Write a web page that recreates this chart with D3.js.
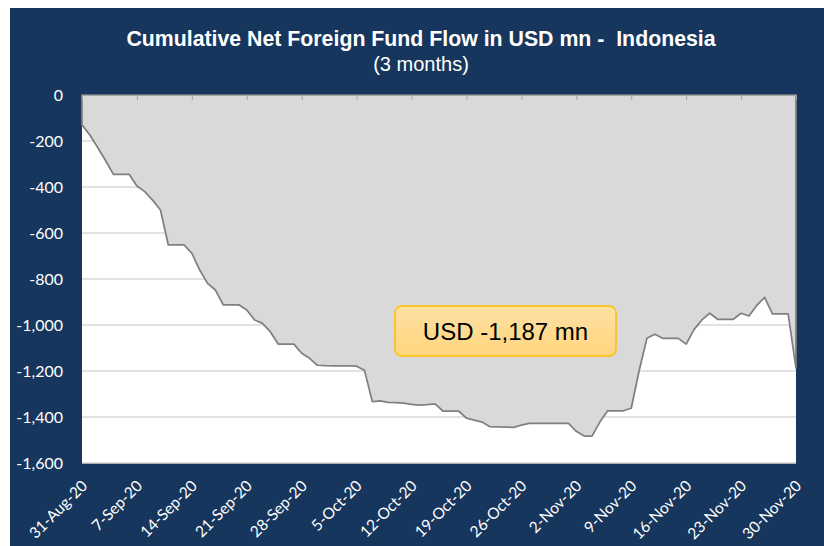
<!DOCTYPE html>
<html>
<head>
<meta charset="utf-8">
<script src="https://cdn.jsdelivr.net/npm/d3@7"></script>
<style>
  body { margin: 0; background: #ffffff; }
  svg { display: block; }
</style>
</head>
<body>
<div id="chart"></div>
<script>
// daily cumulative flow, 31-Aug-20 .. 30-Nov-20 (weekends repeat previous value)
var startDate = "2020-08-31";
var flowValues = [
  -130, -174, -228, -285, -345, -345, -345,
  -396, -420, -457, -500, -652, -652, -652,
  -688, -761, -819, -848, -912, -912, -912,
  -935, -978, -993, -1029, -1083, -1083, -1083,
  -1123, -1145, -1175, -1177, -1178, -1178, -1178,
  -1179, -1197, -1333, -1330, -1336, -1338, -1340,
  -1345, -1348, -1346, -1343, -1374, -1374, -1374,
  -1405, -1414, -1422, -1442, -1443, -1444, -1445,
  -1435, -1428, -1428, -1428, -1428, -1428, -1428,
  -1462, -1483, -1483, -1422, -1373, -1373, -1373,
  -1362, -1200, -1058, -1040, -1058, -1058, -1058,
  -1083, -1020, -978, -949, -975, -975, -975,
  -949, -961, -915, -880, -952, -952, -952,
  -1187
];
var xTickLabels = ["31-Aug-20", "7-Sep-20", "14-Sep-20", "21-Sep-20", "28-Sep-20",
  "5-Oct-20", "12-Oct-20", "19-Oct-20", "26-Oct-20", "2-Nov-20",
  "9-Nov-20", "16-Nov-20", "23-Nov-20", "30-Nov-20"];
var yTicks = [0, -200, -400, -600, -800, -1000, -1200, -1400, -1600];
var calloutText = "USD -1,187 mn";

var W = 824, H = 546;
var margin = {top: 95, right: 28, bottom: 83, left: 82};

var parse = d3.timeParse("%Y-%m-%d");
var d0 = parse(startDate);
var data = flowValues.map(function(v, i) {
  return {date: d3.timeDay.offset(d0, i), value: v};
});

var svg = d3.select("#chart").append("svg")
  .attr("width", W)
  .attr("height", H);

// navy chart background
svg.append("rect")
  .attr("x", 10).attr("y", 8)
  .attr("width", W - 10).attr("height", H - 8)
  .attr("fill", "#17365d");

var x = d3.scaleTime()
  .domain(d3.extent(data, function(d) { return d.date; }))
  .range([margin.left, W - margin.right]);

var y = d3.scaleLinear()
  .domain([-1600, 0])
  .range([H - margin.bottom, margin.top]);

// plot area
svg.append("rect")
  .attr("x", margin.left)
  .attr("y", margin.top)
  .attr("width", W - margin.left - margin.right)
  .attr("height", H - margin.top - margin.bottom)
  .attr("fill", "#ffffff");

// gridlines
svg.append("g")
  .selectAll("line")
  .data(yTicks.filter(function(t) { return t !== 0; }))
  .enter()
  .append("line")
  .attr("x1", margin.left)
  .attr("x2", W - margin.right)
  .attr("y1", function(d) { return y(d); })
  .attr("y2", function(d) { return y(d); })
  .attr("stroke", "#d9d9d9")
  .attr("stroke-width", 1.5);

// area between 0 and the line
var area = d3.area()
  .x(function(d) { return x(d.date); })
  .y0(y(0))
  .y1(function(d) { return y(d.value); });

svg.append("path")
  .datum(data)
  .attr("d", area)
  .attr("fill", "#d9d9d9")
  .attr("stroke", "#808080")
  .attr("stroke-width", 1.75)
  .attr("stroke-linejoin", "round");

// weekly ticks, axis sits at zero (top)
var weekTicks = data.filter(function(d, i) { return i % 7 === 0; })
  .map(function(d) { return d.date; });

var xAxisTop = svg.append("g")
  .attr("transform", "translate(0," + y(0) + ")")
  .call(d3.axisBottom(x).tickValues(weekTicks).tickSize(5).tickFormat(""));
xAxisTop.selectAll("line").attr("stroke", "#a6a6a6");
xAxisTop.select(".domain").attr("stroke", "#a6a6a6").attr("stroke-width", 1);

// x labels at the bottom, rotated
var xAxisBottom = svg.append("g")
  .attr("transform", "translate(0," + (H - margin.bottom) + ")")
  .call(d3.axisBottom(x).tickValues(weekTicks).tickSize(0)
    .tickFormat(function(d, i) { return xTickLabels[i]; }));
xAxisBottom.select(".domain").remove();
xAxisBottom.selectAll("text")
  .attr("fill", "#ffffff")
  .attr("font-family", "Lato, 'Liberation Sans', sans-serif")
  .attr("font-size", "15.5px")
  .attr("text-anchor", "end")
  .attr("dy", "0.35em")
  .attr("transform", "translate(2,20)rotate(-45)")
  .attr("y", 0);

// y labels
var yAxis = svg.append("g")
  .attr("transform", "translate(" + margin.left + ",0)")
  .call(d3.axisLeft(y).tickValues(yTicks).tickSize(0).tickPadding(19)
    .tickFormat(d3.format(",")));
yAxis.select(".domain").remove();
yAxis.selectAll("text")
  .attr("fill", "#ffffff")
  .attr("font-family", "Lato, 'Liberation Sans', sans-serif")
  .attr("font-size", "16px")
  .text(function(d) { return d3.format(",")(d).replace("−", "-"); });

// title
svg.append("text")
  .attr("x", 421).attr("y", 46)
  .attr("text-anchor", "middle")
  .attr("fill", "#ffffff")
  .attr("font-family", "'Liberation Sans', Arial, sans-serif")
  .attr("font-weight", "bold")
  .attr("font-size", "21.3px")
  .attr("xml:space", "preserve")
  .text("Cumulative Net Foreign Fund Flow in USD mn -  Indonesia");

svg.append("text")
  .attr("x", 421).attr("y", 71)
  .attr("text-anchor", "middle")
  .attr("fill", "#ffffff")
  .attr("font-family", "'Liberation Sans', Arial, sans-serif")
  .attr("font-size", "20px")
  .text("(3 months)");

// callout box
var defs = svg.append("defs");
var grad = defs.append("linearGradient")
  .attr("id", "calloutGrad")
  .attr("x1", 0).attr("y1", 0).attr("x2", 0).attr("y2", 1);
grad.append("stop").attr("offset", "0%").attr("stop-color", "#ffe1a3");
grad.append("stop").attr("offset", "100%").attr("stop-color", "#ffd47e");

svg.append("rect")
  .attr("x", 395).attr("y", 306)
  .attr("width", 221).attr("height", 50)
  .attr("rx", 7)
  .attr("fill", "url(#calloutGrad)")
  .attr("stroke", "#ffc000")
  .attr("stroke-width", 1.5);

svg.append("text")
  .attr("x", 505.5).attr("y", 340)
  .attr("text-anchor", "middle")
  .attr("fill", "#000000")
  .attr("font-family", "'Liberation Sans', Arial, sans-serif")
  .attr("font-size", "24px")
  .text(calloutText);
</script>
</body>
</html>
